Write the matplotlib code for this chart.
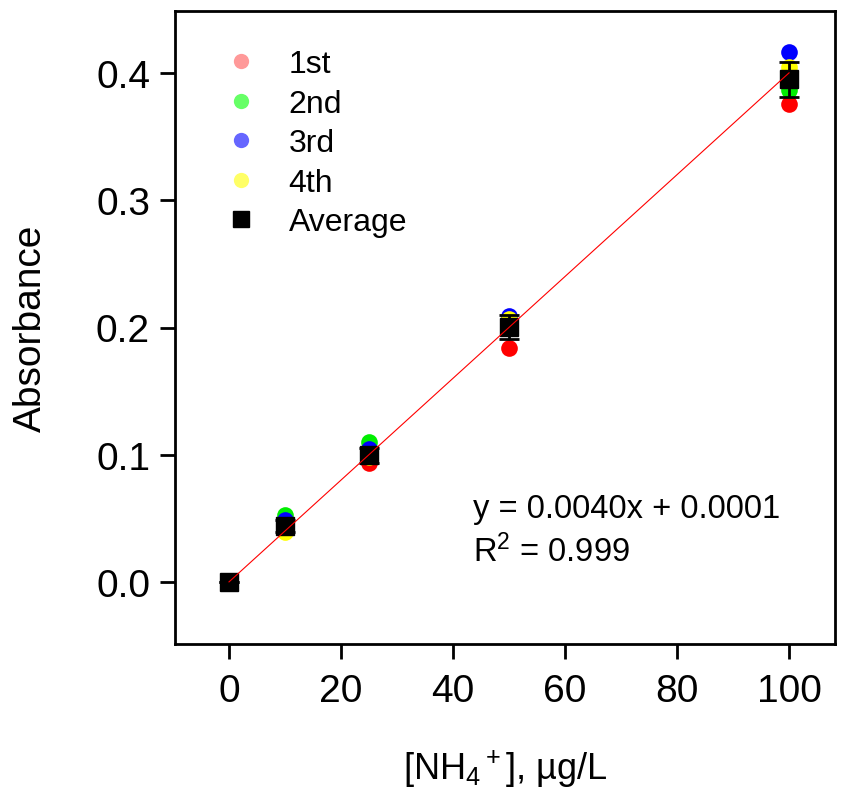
import matplotlib
matplotlib.use("Agg")
import matplotlib.pyplot as plt
from matplotlib.lines import Line2D
import numpy as np

plt.rcParams['font.family'] = ['Liberation Sans', 'DejaVu Sans']
plt.rcParams['mathtext.fontset'] = 'custom'
plt.rcParams['mathtext.rm'] = 'Liberation Sans'
plt.rcParams['mathtext.it'] = 'Liberation Sans:italic'
plt.rcParams['mathtext.bf'] = 'Liberation Sans:bold'

# Data
conc = [0, 10, 25, 50, 100]
run1 = [0.0, 0.043, 0.0935, 0.184, 0.3756]
run2 = [0.0, 0.0527, 0.110, 0.202, 0.387]
run3 = [0.0, 0.0487, 0.1045, 0.209, 0.4165]
run4 = [0.0, 0.039, 0.098, 0.2067, 0.405]
avg = [0.0, 0.044, 0.0995, 0.2004, 0.395]
err = [0.0, 0.005, 0.006, 0.0094, 0.0137]
slope, intercept = 0.0040, 0.0001
series_labels = ['1st', '2nd', '3rd', '4th', 'Average']
series_colors = ['#FF0000', '#00EE00', '#0000FF', '#FFFF00']
legend_colors = ['#FF9999', '#66FF66', '#6666FF', '#FFFF66']
xticks = [0, 20, 40, 60, 80, 100]
yticks = [0.0, 0.1, 0.2, 0.3, 0.4]

fig = plt.figure(figsize=(8.55, 8.04), dpi=100)
ax = fig.add_axes([175/855, 1-645/804, (835-175)/855, (645-12)/804])

for vals, c in zip([run1, run2, run3, run4], series_colors):
    ax.plot(conc, vals, 'o', color=c, markersize=12, markeredgewidth=0, zorder=2)

ax.errorbar(conc, avg, yerr=err, fmt='s', color='black', markersize=13,
            capsize=7, elinewidth=2, capthick=2, zorder=3)

xl = np.array([conc[0], conc[-1]])
ax.plot(xl, slope*xl + intercept, '-', color='red', lw=0.8, zorder=4)

ax.set_xlim(-9.64, 108.2)
ax.set_ylim(-0.0487, 0.4487)
ax.set_xticks(xticks)
ax.set_xticklabels([str(t) for t in xticks])
ax.set_yticks(yticks)
ax.set_yticklabels([f'{t:.1f}' for t in yticks])
ax.tick_params(axis='both', direction='out', length=11, width=2, labelsize=28)
ax.tick_params(axis='x', pad=10)
ax.tick_params(axis='y', pad=7)
for s in ax.spines.values():
    s.set_linewidth(2)

ax.set_xlabel('[NH$_4$$^+$], µg/L', fontsize=26, labelpad=28)
ax.set_ylabel('Absorbance', fontsize=28, labelpad=34)

ax.text(43.6, 0.058, 'y = 0.0040x + 0.0001', fontsize=23.5, va='center', ha='left')
ax.text(43.6, 0.0244, 'R$^2$ = 0.999', fontsize=23.5, va='center', ha='left')

handles = [Line2D([], [], ls='none', marker='o', color=c, markersize=11, markeredgewidth=0)
           for c in legend_colors]
handles.append(Line2D([], [], ls='none', marker='s', color='black', markersize=12))
ax.legend(handles, series_labels, loc='upper left', bbox_to_anchor=(0.034, 0.97),
          frameon=False, fontsize=23, labelspacing=0.3, handletextpad=0.75,
          handlelength=1.5, borderaxespad=0.2)

fig.savefig('out.png', dpi=100)
